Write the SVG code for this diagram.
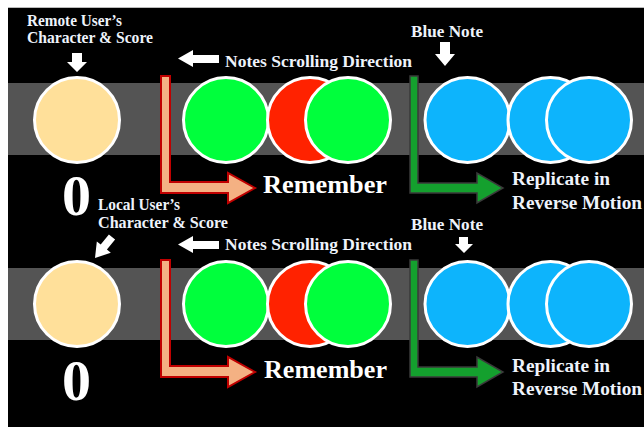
<svg xmlns="http://www.w3.org/2000/svg" width="644" height="427" viewBox="0 0 644 427">
<style>
.lbl{font-family:"Liberation Serif","Times New Roman",serif;font-weight:bold;fill:#EEF3FB}
.big{font-family:"Liberation Serif","Times New Roman",serif;font-weight:bold;fill:#FFFFFF}
.band{fill:#545454}
.note{stroke:#FFFFFF;stroke-width:3}
.char{fill:#FFE09A}
.green{fill:#00FF3C}
.red{fill:#FF2200}
.blue{fill:#0DB4FC}
.warr{fill:#FFFFFF}
.oarr{fill:#F4B183;stroke:#C00000;stroke-width:2;stroke-linejoin:miter}
.garr{fill:#14A02E;stroke:#3A3A3A;stroke-width:1.5;stroke-linejoin:miter}
</style>
<rect x="0" y="0" width="644" height="427" fill="#FFFFFF"/>
<rect x="8" y="7" width="636" height="420" fill="#000000"/>
<line x1="8" y1="7.5" x2="644" y2="7.5" stroke="#BBBBBB" stroke-width="1"/>
<rect class="band" x="8" y="83" width="636" height="72"/>
<rect class="band" x="8" y="268" width="636" height="72"/>

<g id="connectors">
  <path class="oarr" d="M161,76 H170 V182 H228 V173 L255,188 L228,203 V193 H161 Z"/>
  <path class="garr" d="M410,76 H418 V183 H477 V173 L503,188 L477,203 V193 H410 Z"/>
  <path class="oarr" d="M161,260 H170 V366 H228 V357 L255,372 L228,387 V377 H161 Z"/>
  <path class="garr" d="M410,260 H418 V367 H477 V357 L503,372 L477,387 V377 H410 Z"/>
  <polygon class="warr" points="72,53 82,53 82,62 87,62 77,72 67,62 72,62"/>
  <polygon class="warr" points="440,42 450,42 450,54 455,54 445,66 435,54 440,54"/>
  <polygon class="warr" points="459,237 468,237 468,244 473,244 464,253 455,244 459,244"/>
  <polygon class="warr" points="219,55 219,63 193,63 193,67 178,58.5 193,50 193,55"/>
  <polygon class="warr" points="219,241 219,249 193,249 193,253 178,244.5 193,236 193,241"/>
  <polygon class="warr" transform="translate(112,237) rotate(39)" points="-4,0 4,0 4,13 9,13 0,27 -9,13 -4,13"/>
</g>

<g id="remote-char">
  <circle class="char note" cx="77" cy="120" r="42.5"/>
  <text class="lbl" x="27" y="26" font-size="16" textLength="95" lengthAdjust="spacingAndGlyphs">Remote User’s</text>
  <text class="lbl" x="27" y="43" font-size="16" textLength="126" lengthAdjust="spacingAndGlyphs">Character &amp; Score</text>
  <text class="big" x="76.5" y="215" font-size="58" text-anchor="middle">0</text>
</g>
<g id="local-char">
  <circle class="char note" cx="77" cy="304" r="42.5"/>
  <text class="lbl" x="98" y="210" font-size="16" textLength="82" lengthAdjust="spacingAndGlyphs">Local User’s</text>
  <text class="lbl" x="98" y="228" font-size="16" textLength="130" lengthAdjust="spacingAndGlyphs">Character &amp; Score</text>
  <text class="big" x="76.5" y="400" font-size="58" text-anchor="middle">0</text>
</g>

<g id="top-notes">
  <circle class="green note" cx="226" cy="120" r="42.5"/>
  <circle class="red note" cx="310" cy="120" r="42.5"/>
  <circle class="green note" cx="348" cy="120" r="42.5"/>
  <circle class="blue note" cx="467.5" cy="120" r="42.5"/>
  <circle class="blue note" cx="550.5" cy="120" r="42.5"/>
  <circle class="blue note" cx="589" cy="120" r="42.5"/>
</g>
<g id="bottom-notes">
  <circle class="green note" cx="226" cy="304" r="42.5"/>
  <circle class="red note" cx="310" cy="304" r="42.5"/>
  <circle class="green note" cx="348" cy="304" r="42.5"/>
  <circle class="blue note" cx="467.5" cy="304" r="42.5"/>
  <circle class="blue note" cx="550.5" cy="304" r="42.5"/>
  <circle class="blue note" cx="589" cy="304" r="42.5"/>
</g>

<g id="top-labels">
  <text class="lbl" x="225" y="67" font-size="17.5" textLength="187" lengthAdjust="spacingAndGlyphs">Notes Scrolling Direction</text>
  <text class="lbl" x="411" y="37" font-size="16.5" textLength="72" lengthAdjust="spacingAndGlyphs">Blue Note</text>
  <text class="big" x="263" y="193" font-size="26" textLength="124" lengthAdjust="spacingAndGlyphs">Remember</text>
  <text class="lbl" x="512" y="185" font-size="18.5" textLength="98" lengthAdjust="spacingAndGlyphs">Replicate in</text>
  <text class="lbl" x="512" y="209" font-size="18.5" textLength="130" lengthAdjust="spacingAndGlyphs">Reverse Motion</text>
</g>
<g id="bottom-labels">
  <text class="lbl" x="225" y="250" font-size="17.5" textLength="187" lengthAdjust="spacingAndGlyphs">Notes Scrolling Direction</text>
  <text class="lbl" x="411" y="230" font-size="16.5" textLength="72" lengthAdjust="spacingAndGlyphs">Blue Note</text>
  <text class="big" x="264" y="378" font-size="26" textLength="123" lengthAdjust="spacingAndGlyphs">Remember</text>
  <text class="lbl" x="512" y="372" font-size="18.5" textLength="98" lengthAdjust="spacingAndGlyphs">Replicate in</text>
  <text class="lbl" x="512" y="395" font-size="18.5" textLength="130" lengthAdjust="spacingAndGlyphs">Reverse Motion</text>
</g>
</svg>
